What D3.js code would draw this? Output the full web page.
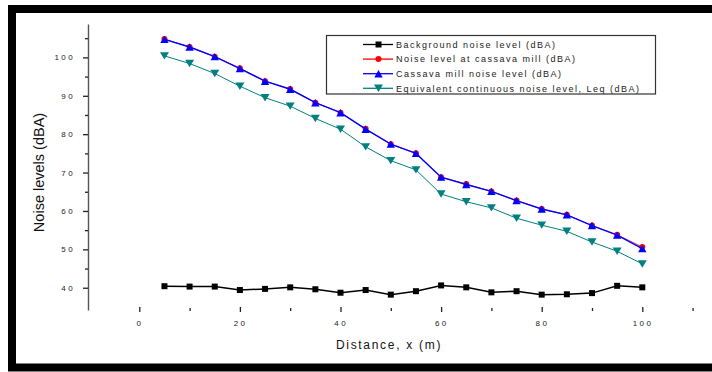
<!DOCTYPE html>
<html><head><meta charset="utf-8">
<script src="https://cdn.jsdelivr.net/npm/d3@7"></script>
<style>
body{margin:0;background:#fff}
svg{display:block}
text{font-family:Arial,"Liberation Sans",sans-serif}
</style>
</head><body>
<svg id="c" width="712" height="372"></svg>
<script>
const distance   = [5,10,15,20,25,30,35,40,45,50,55,60,65,70,75,80,85,90,95,100];
const background = [40.4,40.3,40.3,39.4,39.7,40.1,39.6,38.7,39.4,38.2,39.1,40.6,40.1,38.8,39.1,38.2,38.3,38.6,40.5,40.1];
const noiseAtMill= [104.8,102.7,100.2,97.2,93.8,91.8,88.2,85.6,81.4,77.4,75.0,68.8,67.0,65.1,62.7,60.5,59.0,56.2,53.8,50.6];
const millNoise  = [104.7,102.7,100.2,97.1,93.8,91.7,88.2,85.6,81.3,77.4,75.0,68.8,66.9,65.1,62.7,60.5,59.0,56.2,53.7,50.2];
const leq        = [100.4,98.4,95.8,92.5,89.5,87.3,84.1,81.3,76.7,73.1,70.7,64.4,62.4,60.8,58.1,56.3,54.7,51.9,49.5,46.2];
const seriesNames = ["Background noise level (dBA)","Noise level at cassava mill (dBA)","Cassava mill noise level (dBA)","Equivalent continuous noise level, Leq (dBA)"];
const seriesColors = ["#000000","#ff0000","#0000ff","#008080"];
const yTicks = [40,50,60,70,80,90,100];
const yMinor = [45,55,65,75,85,95,105];
const xTicks = [0,20,40,60,80,100];
const xMinor = [10,30,50,70,90,110];

const svg = d3.select("#c");
const x = d3.scaleLinear().domain([0,100]).range([139.3,642.3]);
const y = d3.scaleLinear().domain([34.2,108.7]).range([310,24]);

// frame
svg.append("rect").attr("x",12).attr("y",9).attr("width",740).attr("height",358.5)
  .attr("fill","none").attr("stroke","#000").attr("stroke-width",8);

// custom symbols centered on bounding box
const triUp = {draw(ctx,size){const w=8.4,h=7.4;ctx.moveTo(0,-h/2);ctx.lineTo(w/2,h/2);ctx.lineTo(-w/2,h/2);ctx.closePath();}};
const triDown = {draw(ctx,size){const w=9,h=7.4;ctx.moveTo(0,h/2);ctx.lineTo(w/2,-h/2);ctx.lineTo(-w/2,-h/2);ctx.closePath();}};
const square = {draw(ctx,size){const s=6;ctx.rect(-s/2,-s/2,s,s);}};
const circle = {draw(ctx,size){ctx.arc(0,0,3,0,2*Math.PI);}};
const symbols = [square,circle,triUp,triDown];

// y axis
const yAxisX = x(-10.2);
const gy = svg.append("g").attr("transform",`translate(${yAxisX},0)`)
  .call(d3.axisLeft(y).tickValues(yTicks).tickSize(5).tickSizeOuter(0).tickPadding(8).tickFormat(d3.format("d")));
gy.select(".domain").attr("stroke","#555").attr("stroke-width",1.4);
gy.selectAll(".tick line").attr("stroke","#222").attr("stroke-width",1.3);
gy.selectAll(".tick text").attr("font-size",8).attr("fill","#222").style("letter-spacing","2.4px");
const gym = svg.append("g").attr("transform",`translate(${yAxisX},0)`)
  .call(d3.axisLeft(y).tickValues(yMinor).tickSize(3).tickFormat(""));
gym.select(".domain").remove();
gym.selectAll(".tick line").attr("stroke","#222").attr("stroke-width",1.3);

// x axis (ticks only)
const gx = svg.append("g").attr("transform","translate(0,307)")
  .call(d3.axisBottom(x).tickValues(xTicks).tickSize(5).tickPadding(8).tickFormat(d3.format("d")));
gx.select(".domain").remove();
gx.selectAll(".tick line").attr("stroke","#222").attr("stroke-width",1.3);
gx.selectAll(".tick text").attr("font-size",8).attr("fill","#222").style("letter-spacing","2.4px").attr("dx","0.2");
const gxm = svg.append("g").attr("transform","translate(0,308)")
  .call(d3.axisBottom(x).tickValues(xMinor).tickSize(3).tickFormat(""));
gxm.select(".domain").remove();
gxm.selectAll(".tick line").attr("stroke","#222").attr("stroke-width",1.3);

// axis titles
svg.append("text").attr("transform","translate(43.5,172.5) rotate(-90)").attr("text-anchor","middle")
  .attr("font-size",14.5).attr("fill","#111").text("Noise levels (dBA)");
svg.append("text").attr("x",389).attr("y",349.3).attr("text-anchor","middle")
  .attr("font-size",12).attr("fill","#111").style("letter-spacing","1.7px").text("Distance, x (m)");

// series
const allSeries = [background,noiseAtMill,millNoise,leq];
const widths = [1.5,0.8,1.4,1];
const line = d3.line().x((d,i)=>x(distance[i])).y(d=>y(d));
const order = [0,3,1,2];
order.forEach(k=>{
  const vals = allSeries[k];
  svg.append("path").datum(vals).attr("d",line).attr("fill","none")
    .attr("stroke",seriesColors[k]).attr("stroke-width",widths[k]);
  svg.append("g").selectAll("path").data(vals).join("path")
    .attr("transform",(d,i)=>`translate(${x(distance[i])},${y(d)})`)
    .attr("d",d3.symbol().type(symbols[k])())
    .attr("fill",seriesColors[k]);
});

// legend
const lg = svg.append("g");
lg.append("rect").attr("x",326.5).attr("y",35.5).attr("width",329).attr("height",58.5)
  .attr("fill","#fff").attr("stroke","#333").attr("stroke-width",1.2);
seriesNames.forEach((name,i)=>{
  const ry = 44.5 + i*14.6;
  lg.append("line").attr("x1",363).attr("x2",393).attr("y1",ry).attr("y2",ry)
    .attr("stroke",seriesColors[i]).attr("stroke-width",1.3);
  lg.append("path").attr("transform",`translate(378.5,${ry})`)
    .attr("d",d3.symbol().type(symbols[i])()).attr("fill",seriesColors[i]);
  lg.append("text").attr("x",396).attr("y",ry+3.2).attr("font-size",9).attr("fill","#222")
    .style("letter-spacing","1.5px").text(name);
});
</script>
</body></html>
